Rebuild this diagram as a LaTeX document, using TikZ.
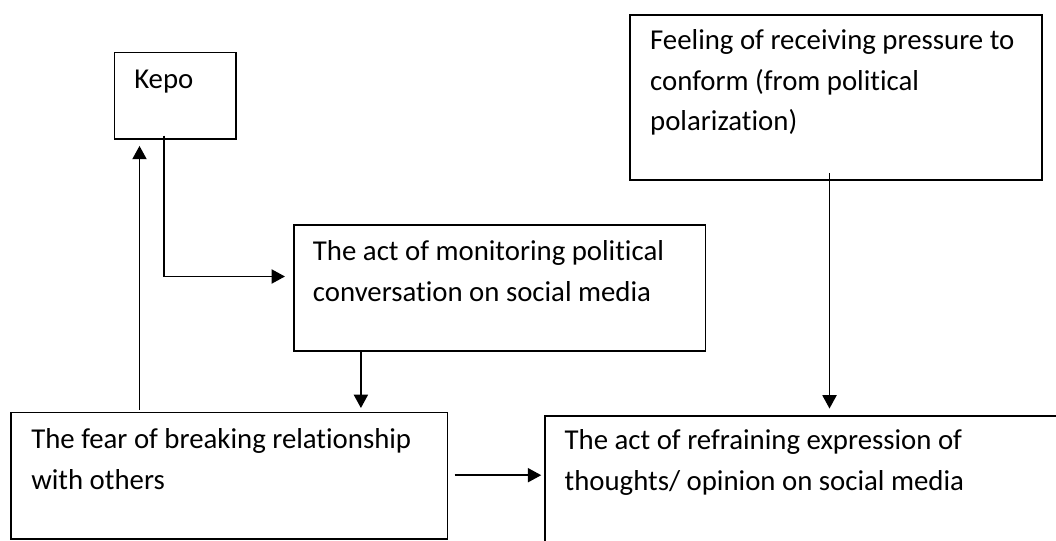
\documentclass[tikz,border=0pt]{standalone}
\usepackage{fontspec}
\setmainfont{Carlito}[Ligatures=NoCommon]
\usetikzlibrary{arrows.meta, positioning, calc}

\tikzset{
  box/.style={draw, line width=1.4pt, anchor=north west, inner sep=0pt},
  txt/.style={anchor=base west, align=left, inner sep=0pt,
    font=\fontsize{21.6}{30.45}\selectfont},
  link/.style={line width=1.4pt},
  flow/.style={link, -{Triangle[length=10pt, width=10.5pt]}},
}

\begin{document}
\begin{tikzpicture}[x=0.75pt, y=-0.75pt]

    \useasboundingbox (0,0) rectangle (1056,541);
    \clip (0,0) rectangle (1056,541);

    % Cajas
    \node[box, minimum width=90.9pt, minimum height=64.6pt] (kepo) at (113.6,51.6) {};
    \node[box, minimum width=308.9pt, minimum height=94.8pt] (monitor) at (292.7,223.8) {};
    \node[box, minimum width=327.2pt, minimum height=94.8pt] (fear) at (10.3,411.5) {};
    \node[box, minimum width=402pt, minimum height=124pt] (refrain) at (543.9,414.7) {};
    \node[box, minimum width=309pt, minimum height=123.8pt] (pressure) at (629.4,13.7) {};

    % Textos de las cajas (base = ultima linea)
    \node[txt] (kepoText) at ([shift={(20.4,37.2)}]kepo.north west) {Kepo};
    \node[txt] (monitorText) at ([shift={(20,77.5)}]monitor.north west)
      {The act of monitoring political\\conversation on social media};
    \node[txt] (fearText) at ([shift={(20.7,77.8)}]fear.north west)
      {The fear of breaking relationship\\with others};
    \node[txt] (refrainText) at ([shift={(20.5,75.7)}]refrain.north west)
      {The act of refraining expression of\\thoughts/ opinion on social media};
    \node[txt] (pressureText) at ([shift={(20.5,117.1)}]pressure.north west)
      {Feeling of receiving pressure to\\conform (from political\\polarization)};

    % Puntos de paso de las flechas
    \coordinate (kepoBend) at (164,276.5);
    \coordinate (upX) at (139.5,0);
    \coordinate (downX) at (360.9,0);
    \coordinate (sideY) at (0,475.2);
    \coordinate (pressX) at (829.5,0);

    % Flechas
    \draw[flow, shorten <=-3pt, shorten >=5.8pt] (kepo.south -| kepoBend) |- (monitor.west |- kepoBend);
    \draw[flow, shorten <=1.5pt, shorten >=4.7pt] (fear.north -| upX) -- (kepo.south -| upX);
    \draw[flow, shorten >=2.6pt] (monitor.south -| downX) -- (fear.north -| downX);
    \draw[flow, shorten <=4.6pt, shorten >=2pt] (fear.east |- sideY) -- (refrain.west |- sideY);
    \draw[flow, shorten <=-5.4pt, shorten >=4.6pt] (pressure.south -| pressX) -- (refrain.north -| pressX);
\end{tikzpicture}
\end{document}
